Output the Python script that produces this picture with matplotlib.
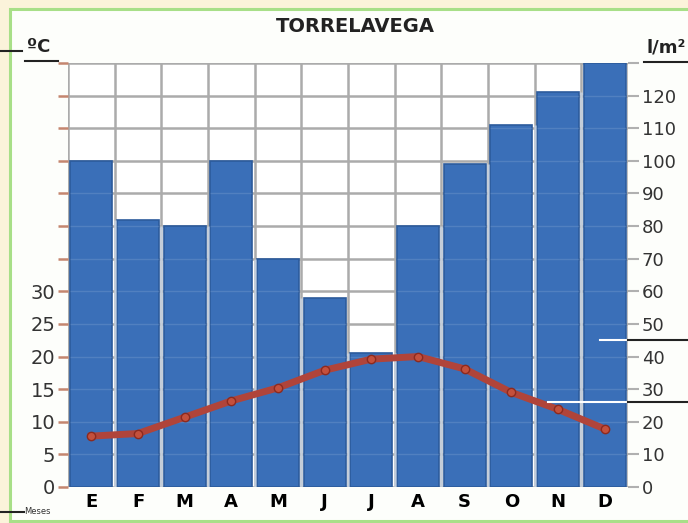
#!/usr/bin/env python

""" Climograma de Torrelavega: precipitacion en barras, temperatura en linea. """

import matplotlib.pyplot as plt
from matplotlib.lines import Line2D
from matplotlib.patches import Rectangle

W, H = 688, 523

months = ["E", "F", "M", "A", "M", "J", "J", "A", "S", "O", "N", "D"]
precip = [100, 82, 80, 100, 70, 58, 41, 80, 99, 111, 121, 130]
temp = [7.8, 8.2, 10.7, 13.2, 15.2, 17.9, 19.6, 20.0, 18.1, 14.5, 11.9, 8.9]

temp_ticks = list(range(0, 70, 5))
temp_labels = [str(t) if t <= 30 else "" for t in temp_ticks]
precip_ticks = list(range(0, 140, 10))
precip_labels = [str(p) if p <= 120 else "" for p in precip_ticks]


def fx(px):
    return px / W


def fy(py):
    return 1 - py / H


fig = plt.figure(figsize=(W / 100, H / 100), dpi=100)
fig.patch.set_facecolor("#fbf3da")

# marco verde
fig.patches.append(Rectangle((fx(10), fy(521)), fx(700) - fx(10), fy(9) - fy(521),
                             transform=fig.transFigure, facecolor="#fdfefb",
                             edgecolor="#a8df88", linewidth=2.2, zorder=-10))

ax = fig.add_axes([fx(68), fy(487), fx(628) - fx(68), fy(63) - fy(487)])
ax.set_facecolor("white")
ax2 = ax.twinx()

# precipitacion (eje derecho)
x = list(range(len(months)))
ax.bar(x, precip, width=0.9, color="#3a6fb8", edgecolor="#2c5b9c",
       linewidth=1.2, zorder=2)
ax.set_ylim(0, 130)
ax.set_xlim(-0.5, 11.5)
ax.set_yticks(precip_ticks)
ax.set_yticklabels(precip_labels)
ax.yaxis.tick_right()
ax.tick_params(axis="y", length=8, width=1.5, color="#b0b0b0", pad=2,
               labelsize=13, labelcolor="#333333")
ax.set_xticks(x)
ax.set_xticklabels(months, fontweight="bold", fontsize=13)
ax.tick_params(axis="x", length=0, pad=4)
ax.set_xticks([i + 0.5 for i in range(-1, 12)], minor=True)
ax.tick_params(axis="x", which="minor", length=0)
ax.set_axisbelow(True)
ax.grid(axis="y", color="#ababab", linewidth=1.8, zorder=0)
ax.grid(axis="x", which="minor", color="#ababab", linewidth=1.8, zorder=0)

# rejilla clara que se transparenta sobre las barras
for i in range(len(x) - 1):
    top = min(precip[i], precip[i + 1])
    ax.vlines(i + 0.5, 0, top, color="#cddcf0", linewidth=1.8, alpha=0.7, zorder=3)
for i, p in enumerate(precip):
    for t in precip_ticks[1:]:
        if t < p:
            ax.hlines(t, i - 0.45, i + 0.45, color="#7da0d0", linewidth=1.0,
                      alpha=0.35, zorder=3)
for s in ax.spines.values():
    s.set_visible(False)

# temperatura (eje izquierdo)
ax2.plot(x, temp, color="#b0443a", linewidth=5, marker="o", markersize=6,
         markerfacecolor="#c4503c", markeredgecolor="#8c2a1f", zorder=5)
ax2.set_ylim(0, 65)
ax2.set_yticks(temp_ticks)
ax2.set_yticklabels(temp_labels)
ax2.yaxis.tick_left()
ax2.tick_params(axis="y", length=7, width=1.8, color="#c4866f", pad=2,
                labelsize=14, labelcolor="#333333")
for s in ax2.spines.values():
    s.set_visible(False)

# textos
fig.text(fx(355), fy(27), "TORRELAVEGA", ha="center", va="center",
         fontsize=14, fontweight="bold", color="#222222")
fig.text(fx(27), fy(47), "ºC", ha="left", va="center", fontsize=13,
         fontweight="bold", color="#222222")
fig.text(fx(646), fy(47), "l/m²", ha="left", va="center", fontsize=13,
         fontweight="bold", color="#222222")
fig.text(fx(24), fy(512), "Meses", ha="left", va="center", fontsize=6,
         color="#333333")


def fline(x0, x1, y, color, lw=1.5):
    fig.lines.append(Line2D([fx(x0), fx(x1)], [fy(y), fy(y)],
                            transform=fig.transFigure, color=color, linewidth=lw))


fline(0, 22, 51, "#222222")
fline(25, 58, 61, "#222222")
fline(644, 688, 62, "#222222")
fline(0, 24, 512, "#222222")
fline(600, 628, 340, "white")
fline(628, 688, 340, "#222222")
fline(548, 628, 402, "white")
fline(628, 688, 402, "#222222")

fig.savefig("out.png", dpi=100, facecolor=fig.get_facecolor())
